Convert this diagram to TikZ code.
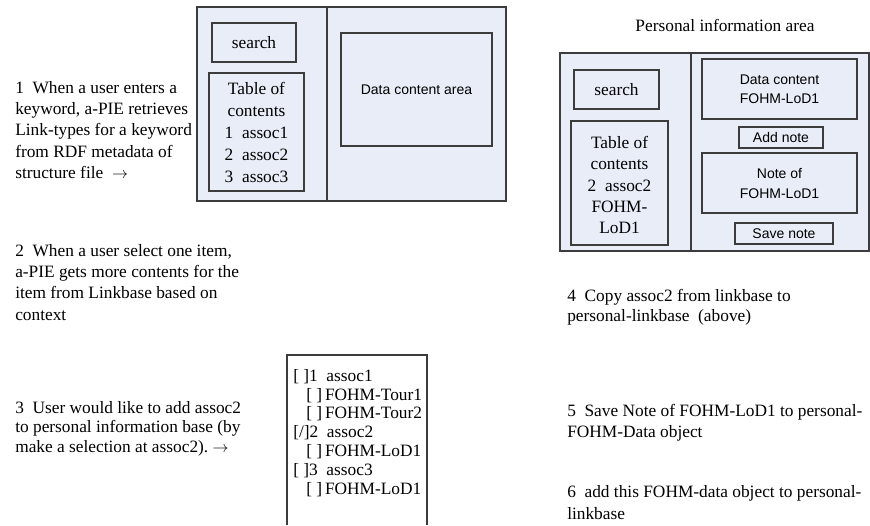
\documentclass[tikz,border=0pt]{standalone}
\usepackage{fontspec}
\setmainfont{Liberation Serif}
\newfontfamily\uisans{Liberation Sans}
\usetikzlibrary{fit}
\definecolor{panelfill}{RGB}{232,237,247}
\definecolor{edgegray}{RGB}{60,60,60}
\tikzset{
  panel/.style={draw=edgegray, fill=panelfill, line width=0.8pt, inner sep=0pt},
  serifcap/.style={inner sep=0pt, align=center, font=\fontsize{13}{16.5}\selectfont},
  sanscap/.style={inner sep=0pt, align=center, font=\uisans\fontsize{10.5}{14.5}\selectfont},
  stepnote/.style={inner sep=0pt, anchor=north west, align=left},
  listline/.style={draw=edgegray, line width=0.8pt},
}
\newcommand{\fohmentry}{\hspace*{9.75pt}{[}\ {]}\,}
\begin{document}
\begin{tikzpicture}[x=0.75pt, y=-0.75pt]
\useasboundingbox (0,0) rectangle (870,525);

% ---------- linkbase browser window ----------
\node[panel, fit={(197,7) (327,201)}] (lnav) {};
\node[panel, fit={(327,7) (506,201)}] (ldata) {};
\node[panel, fit={(212,23) (296,62)}] (lsearch) {};
\node[serifcap] (lsearchtxt) at (lsearch.center) {search};
\node[panel, fit={(209,73) (304,191)}] (ltoc) {};
\node[serifcap, font=\fontsize{13}{16.5}\selectfont] (ltoctxt) at (ltoc.center)
  {Table of\\contents\\1\ \ assoc1\\2\ \ assoc2\\3\ \ assoc3};
\node[panel, fit={(341,33) (492,146)}] (lcontent) {};
\node[sanscap] (lcontenttxt) at (lcontent.center) {Data content area};

% ---------- personal information window ----------
\node[font=\fontsize{13}{16}\selectfont] (ptitle) at (725,25) {Personal information area};
\node[panel, fit={(560,53) (691,251)}] (pnav) {};
\node[panel, fit={(691,53) (869,251)}] (pdata) {};
\node[panel, fit={(574,70) (659,109)}] (psearch) {};
\node[serifcap] (psearchtxt) at (psearch.center) {search};
\node[panel, fit={(571,121) (668,245)}] (ptoc) {};
\node[serifcap, font=\fontsize{13}{16.1}\selectfont] (ptoctxt) at ([yshift=-1.5pt]ptoc.center)
  {Table of\\contents\\2\ \ assoc2\\FOHM-\\LoD1};
\node[panel, fit={(702,59) (857,119)}] (pcontent) {};
\node[sanscap, font=\uisans\fontsize{10.5}{14.25}\selectfont] (pcontenttxt) at (pcontent.center)
  {Data content\\FOHM-LoD1};
\node[panel, fit={(739,127) (823,148)}] (paddnote) {};
\node[sanscap] (paddnotetxt) at (paddnote.center) {Add note};
\node[panel, fit={(702,153) (857,213)}] (pnote) {};
\node[sanscap, font=\uisans\fontsize{10.5}{15}\selectfont] (pnotetxt) at (pnote.center)
  {Note of\\FOHM-LoD1};
\node[panel, fit={(735,223) (833,244)}] (psave) {};
\node[sanscap] (psavetxt) at (psave.center) {Save note};

% ---------- selection list (open at the bottom) ----------
\coordinate (selbl) at (287,525);
\coordinate (seltl) at (287,355);
\coordinate (seltr) at (427,355);
\coordinate (selbr) at (427,525);
\draw[listline] (selbl) -- (seltl) -- (seltr) -- (selbr);
\node[stepnote, font=\fontsize{13}{14.1}\selectfont] (sellist) at (293,369)
  {{[}\ {]}1\ \ assoc1\\
   \fohmentry FOHM-Tour1\\
   \fohmentry FOHM-Tour2\\
   {[}/{]}2\ \ assoc2\\
   \fohmentry FOHM-LoD1\\
   {[}\ {]}3\ \ assoc3\\
   \fohmentry FOHM-LoD1};

% ---------- step descriptions ----------
\node[stepnote, font=\fontsize{13}{16}\selectfont] (stepone) at (15,81)
  {1\ \ When a user enters a\\keyword, a-PIE retrieves\\Link-types for a keyword\\from RDF metadata of\\structure file\ \ $\rightarrow$};
\node[stepnote, font=\fontsize{13}{16}\selectfont] (steptwo) at (15,244)
  {2\ \ When a user select one item,\\a-PIE gets more contents for the\\item from Linkbase based on\\context};
\node[stepnote, font=\fontsize{13}{14.6}\selectfont] (stepthree) at (15,401)
  {3\ \ User would like to add assoc2\\to personal information base (by\\make a selection at assoc2).\ $\rightarrow$};
\node[stepnote, font=\fontsize{13}{15}\selectfont] (stepfour) at (567,289)
  {4\ \ Copy assoc2 from linkbase to\\personal-linkbase\ \ (above)};
\node[stepnote, font=\fontsize{13}{15.75}\selectfont] (stepfive) at (567,404)
  {5\ \ Save Note of FOHM-LoD1 to personal-\\FOHM-Data object};
\node[stepnote, font=\fontsize{13}{17}\selectfont] (stepsix) at (567,485)
  {6\ \ add this FOHM-data object to personal-\\linkbase};
\end{tikzpicture}
\end{document}
